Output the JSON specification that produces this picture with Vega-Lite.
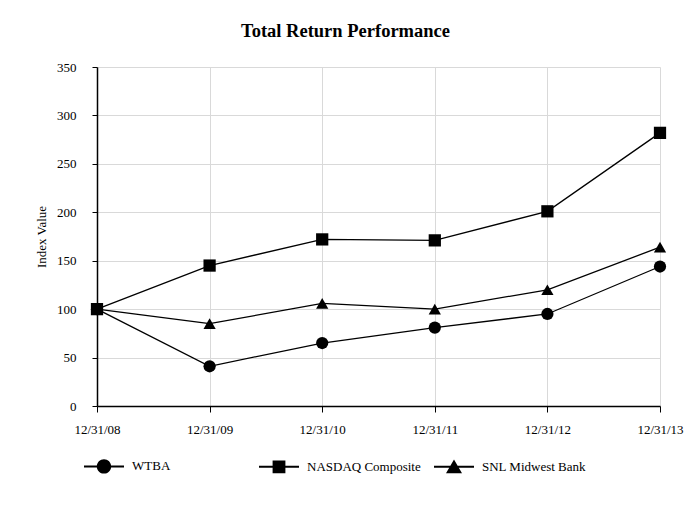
{
  "$schema": "https://vega.github.io/schema/vega-lite/v6.json",
  "width": 563,
  "height": 339,
  "autosize": {"type": "none"},
  "padding": {"left": 97, "top": 67, "right": 36, "bottom": 104},
  "background": "white",
  "title": {
    "text": "Total Return Performance",
    "font": "Liberation Serif",
    "fontSize": 18.5,
    "fontWeight": "bold",
    "color": "black",
    "anchor": "middle",
    "dx": -33,
    "offset": 21
  },
  "data": {
    "values": [
      {"date": "12/31/08", "series": "WTBA", "value": 100},
      {"date": "12/31/09", "series": "WTBA", "value": 41},
      {"date": "12/31/10", "series": "WTBA", "value": 65},
      {"date": "12/31/11", "series": "WTBA", "value": 81},
      {"date": "12/31/12", "series": "WTBA", "value": 95},
      {"date": "12/31/13", "series": "WTBA", "value": 144},
      {"date": "12/31/08", "series": "NASDAQ Composite", "value": 100},
      {"date": "12/31/09", "series": "NASDAQ Composite", "value": 145},
      {"date": "12/31/10", "series": "NASDAQ Composite", "value": 172},
      {"date": "12/31/11", "series": "NASDAQ Composite", "value": 171},
      {"date": "12/31/12", "series": "NASDAQ Composite", "value": 201},
      {"date": "12/31/13", "series": "NASDAQ Composite", "value": 282},
      {"date": "12/31/08", "series": "SNL Midwest Bank", "value": 100},
      {"date": "12/31/09", "series": "SNL Midwest Bank", "value": 85},
      {"date": "12/31/10", "series": "SNL Midwest Bank", "value": 106},
      {"date": "12/31/11", "series": "SNL Midwest Bank", "value": 100},
      {"date": "12/31/12", "series": "SNL Midwest Bank", "value": 120},
      {"date": "12/31/13", "series": "SNL Midwest Bank", "value": 164}
    ]
  },
  "encoding": {
    "x": {
      "field": "date",
      "type": "ordinal",
      "scale": {"type": "point", "padding": 0},
      "axis": {
        "title": null,
        "labelAngle": 0,
        "labelFont": "Liberation Serif",
        "labelFontSize": 13,
        "labelColor": "black",
        "tickSize": 6,
        "tickColor": "black",
        "labelPadding": 11,
        "domainColor": "black",
        "domainWidth": 1.5,
        "grid": true,
        "gridColor": "#d9d9d9",
        "gridWidth": 1
      }
    },
    "y": {
      "field": "value",
      "type": "quantitative",
      "scale": {"domain": [0, 350], "nice": false},
      "axis": {
        "title": "Index Value",
        "titleFont": "Liberation Serif",
        "titleFontSize": 13,
        "titleFontWeight": "normal",
        "titleColor": "black",
        "titlePadding": 8,
        "values": [0, 50, 100, 150, 200, 250, 300, 350],
        "labelFont": "Liberation Serif",
        "labelFontSize": 13,
        "labelColor": "black",
        "tickSize": 5,
        "tickColor": "black",
        "labelPadding": 16,
        "domainColor": "black",
        "domainWidth": 1.5,
        "gridColor": "#d9d9d9",
        "gridWidth": 1
      }
    }
  },
  "layer": [
    {
      "mark": {"type": "line", "color": "black", "strokeWidth": 1.3},
      "encoding": {
        "detail": {"field": "series"}
      }
    },
    {
      "mark": {"type": "point", "filled": true, "color": "black", "opacity": 1, "size": 150},
      "encoding": {
        "shape": {
          "field": "series",
          "type": "nominal",
          "scale": {
            "domain": ["WTBA", "NASDAQ Composite", "SNL Midwest Bank"],
            "range": ["circle", "square", "triangle-up"]
          },
          "legend": null
        }
      }
    },
    {
      "mark": {"type": "point", "filled": true, "color": "black", "size": 0},
      "encoding": {
        "shape": {
          "field": "series",
          "type": "nominal",
          "sort": ["WTBA", "NASDAQ Composite", "SNL Midwest Bank"],
          "scale": {
            "domain": ["WTBA", "NASDAQ Composite", "SNL Midwest Bank"],
            "range": [
              "M-1,-0.05H1V0.05H-1ZM0.36,0A0.36,0.36 0 1,1 -0.36,0A0.36,0.36 0 1,1 0.36,0Z",
              "M-1,-0.05H1V0.05H-1ZM-0.32,-0.32H0.32V0.32H-0.32Z",
              "M-1,-0.05H1V0.05H-1ZM0,-0.37L0.4,0.32H-0.4Z"
            ]
          },
          "legend": {
            "title": null,
            "orient": "none",
            "legendX": -14,
            "legendY": 378,
            "direction": "horizontal",
            "columns": 3,
            "gridAlign": "all",
            "columnPadding": 10,
            "padding": 0,
            "symbolSize": 1600,
            "symbolFillColor": "black",
            "symbolStrokeColor": "black",
            "symbolOpacity": 1,
            "labelFont": "Liberation Serif",
            "labelFontSize": 13,
            "labelColor": "black",
            "labelOffset": 7,
            "labelLimit": 300
          }
        }
      }
    }
  ],
  "resolve": {"scale": {"shape": "independent"}, "legend": {"shape": "independent"}},
  "config": {
    "view": {"stroke": null},
    "font": "Liberation Serif"
  }
}
